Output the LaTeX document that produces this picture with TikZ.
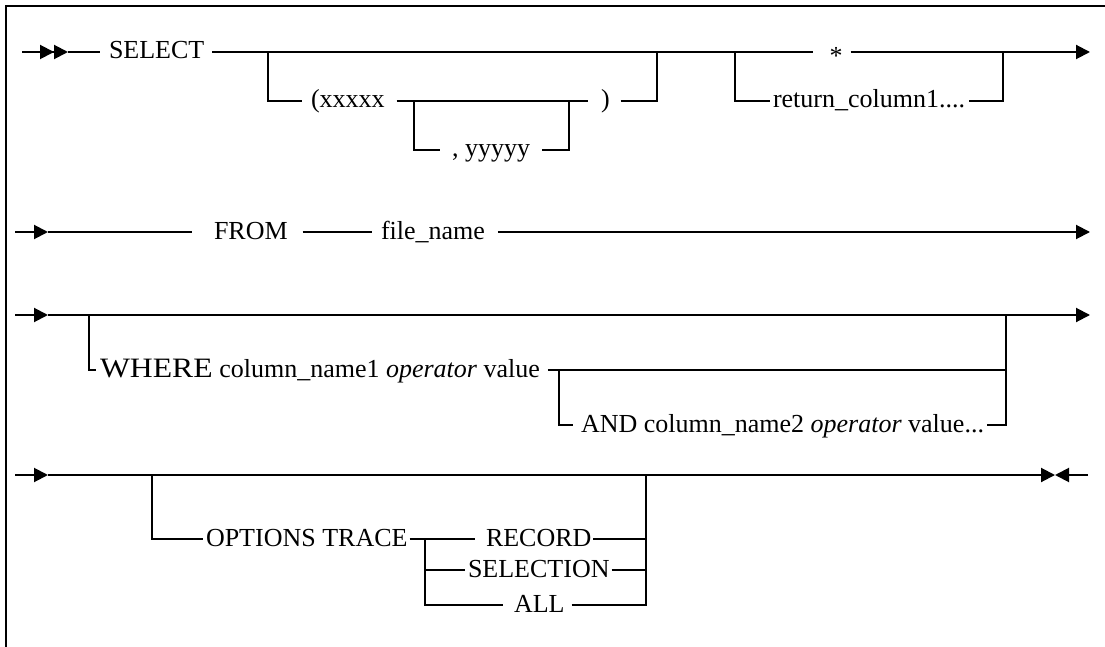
\documentclass[tikz,border=0pt]{standalone}
\usepackage{fontspec}
\setmainfont{Liberation Serif}
\usetikzlibrary{arrows.meta}
\begin{document}
\begin{tikzpicture}[x=1pt,y=-1pt,line width=2pt,
  lbl/.style={inner sep=0pt,text height=14pt,text depth=0pt,anchor=west,font=\fontsize{26pt}{30pt}\selectfont},
  arr/.style={-{Triangle[length=14pt,width=14pt]}},
  darr/.style={-{Triangle[length=14pt,width=14pt]Triangle[length=14pt,width=14pt]}}]
\useasboundingbox (0,0) rectangle (1105,647);
% frame
\draw (6,647) -- (6,6) -- (1105,6);
% ---------- row 1 ----------
\coordinate (s1) at (22,52);
\coordinate (a1) at (68,52);
\coordinate (e1) at (1090,52);
\node[lbl] (sel) at (108,52) {SELECT};
\node[lbl,text height=26pt,anchor=center] (star) at (836,52) {*};
\draw[darr] (s1) -- (a1);
\draw (a1) -- ([xshift=-8pt]sel.west);
\draw ([xshift=7pt]sel.east) -- ([xshift=-16pt]star.west);
\draw[arr] ([xshift=7pt]star.east) -- (e1);
% paren branch
\coordinate (ja) at (268,52);
\coordinate (jb) at (657,52);
\node[lbl] (xx) at (310,101) {(xxxxx};
\node[lbl] (rp) at (600,101) {)};
\draw (ja) |- ([xshift=-8pt]xx.west);
\draw ([xshift=11pt]xx.east) -- ([xshift=-12pt]rp.west);
\draw ([xshift=10pt]rp.east) -| (jb);
\coordinate (jc) at (414,101);
\coordinate (jd) at (569,101);
\node[lbl] (yy) at (451,150) {, yyyyy};
\draw (jc) |- ([xshift=-11pt]yy.west);
\draw ([xshift=11pt]yy.east) -| (jd);
% return column branch
\coordinate (je) at (735,52);
\coordinate (jf) at (1003,52);
\node[lbl] (rc) at (772,101) {return\_column1....};
\draw (je) |- ([xshift=-2pt]rc.west);
\draw ([xshift=3pt]rc.east) -| (jf);
% ---------- row 2 ----------
\coordinate (s2) at (15,232);
\coordinate (a2) at (48,232);
\coordinate (e2) at (1090,232);
\node[lbl] (from) at (213,232) {FROM};
\node[lbl] (fn) at (380,232) {file\_name};
\draw[arr] (s2) -- (a2);
\draw (a2) -- ([xshift=-21pt]from.west);
\draw ([xshift=14pt]from.east) -- ([xshift=-8pt]fn.west);
\draw[arr] ([xshift=12pt]fn.east) -- (e2);
% ---------- row 3 ----------
\coordinate (s3) at (15,315);
\coordinate (a3) at (48,315);
\coordinate (e3) at (1090,315);
\draw[arr] (s3) -- (a3);
\draw[arr] (a3) -- (e3);
\coordinate (jw) at (89,315);
\coordinate (jx) at (1006,315);
\node[lbl] (wh) at (99,370) {\scalebox{1.22}[1.08]{WHERE} column\_name1 \textit{operator} value};
\draw (jw) |- ([xshift=-3pt]wh.west);
\draw ([xshift=7pt]wh.east) -| (jx);
\coordinate (jy) at (559,370);
\coordinate (jz) at (1006,370);
\node[lbl] (an) at (580,425) {AND column\_name2 \textit{operator} value...};
\draw (jy) |- ([xshift=-7pt]an.west);
\draw ([xshift=2pt]an.east) -| (jz);
% ---------- row 4 ----------
\coordinate (s4) at (15,475);
\coordinate (a4) at (48,475);
\coordinate (m4) at (1055,475);
\coordinate (e4) at (1088,475);
\draw[arr] (s4) -- (a4);
\draw[arr] (a4) -- (m4);
\draw[arr] (e4) -- (m4);
\coordinate (jo) at (152,475);
\coordinate (jr) at (646,475);
\coordinate (jt) at (425,539);
\node[lbl] (op) at (205,539) {OPTIONS TRACE};
\node[lbl] (rec) at (485,539) {RECORD};
\node[lbl] (selc) at (467,570) {SELECTION};
\node[lbl] (all) at (513,605) {ALL};
\draw (jo) |- ([xshift=-2pt]op.west);
\draw ([xshift=1pt]op.east) -- ([xshift=-10pt]rec.west);
\draw (jt) |- ([xshift=-2pt]selc.west);
\draw (jt) |- ([xshift=-10pt]all.west);
\draw ([xshift=1pt]rec.east) -| (jr);
\draw ([xshift=1pt]selc.east) -| (jr);
\draw ([xshift=6pt]all.east) -| (jr);
\end{tikzpicture}
\end{document}
